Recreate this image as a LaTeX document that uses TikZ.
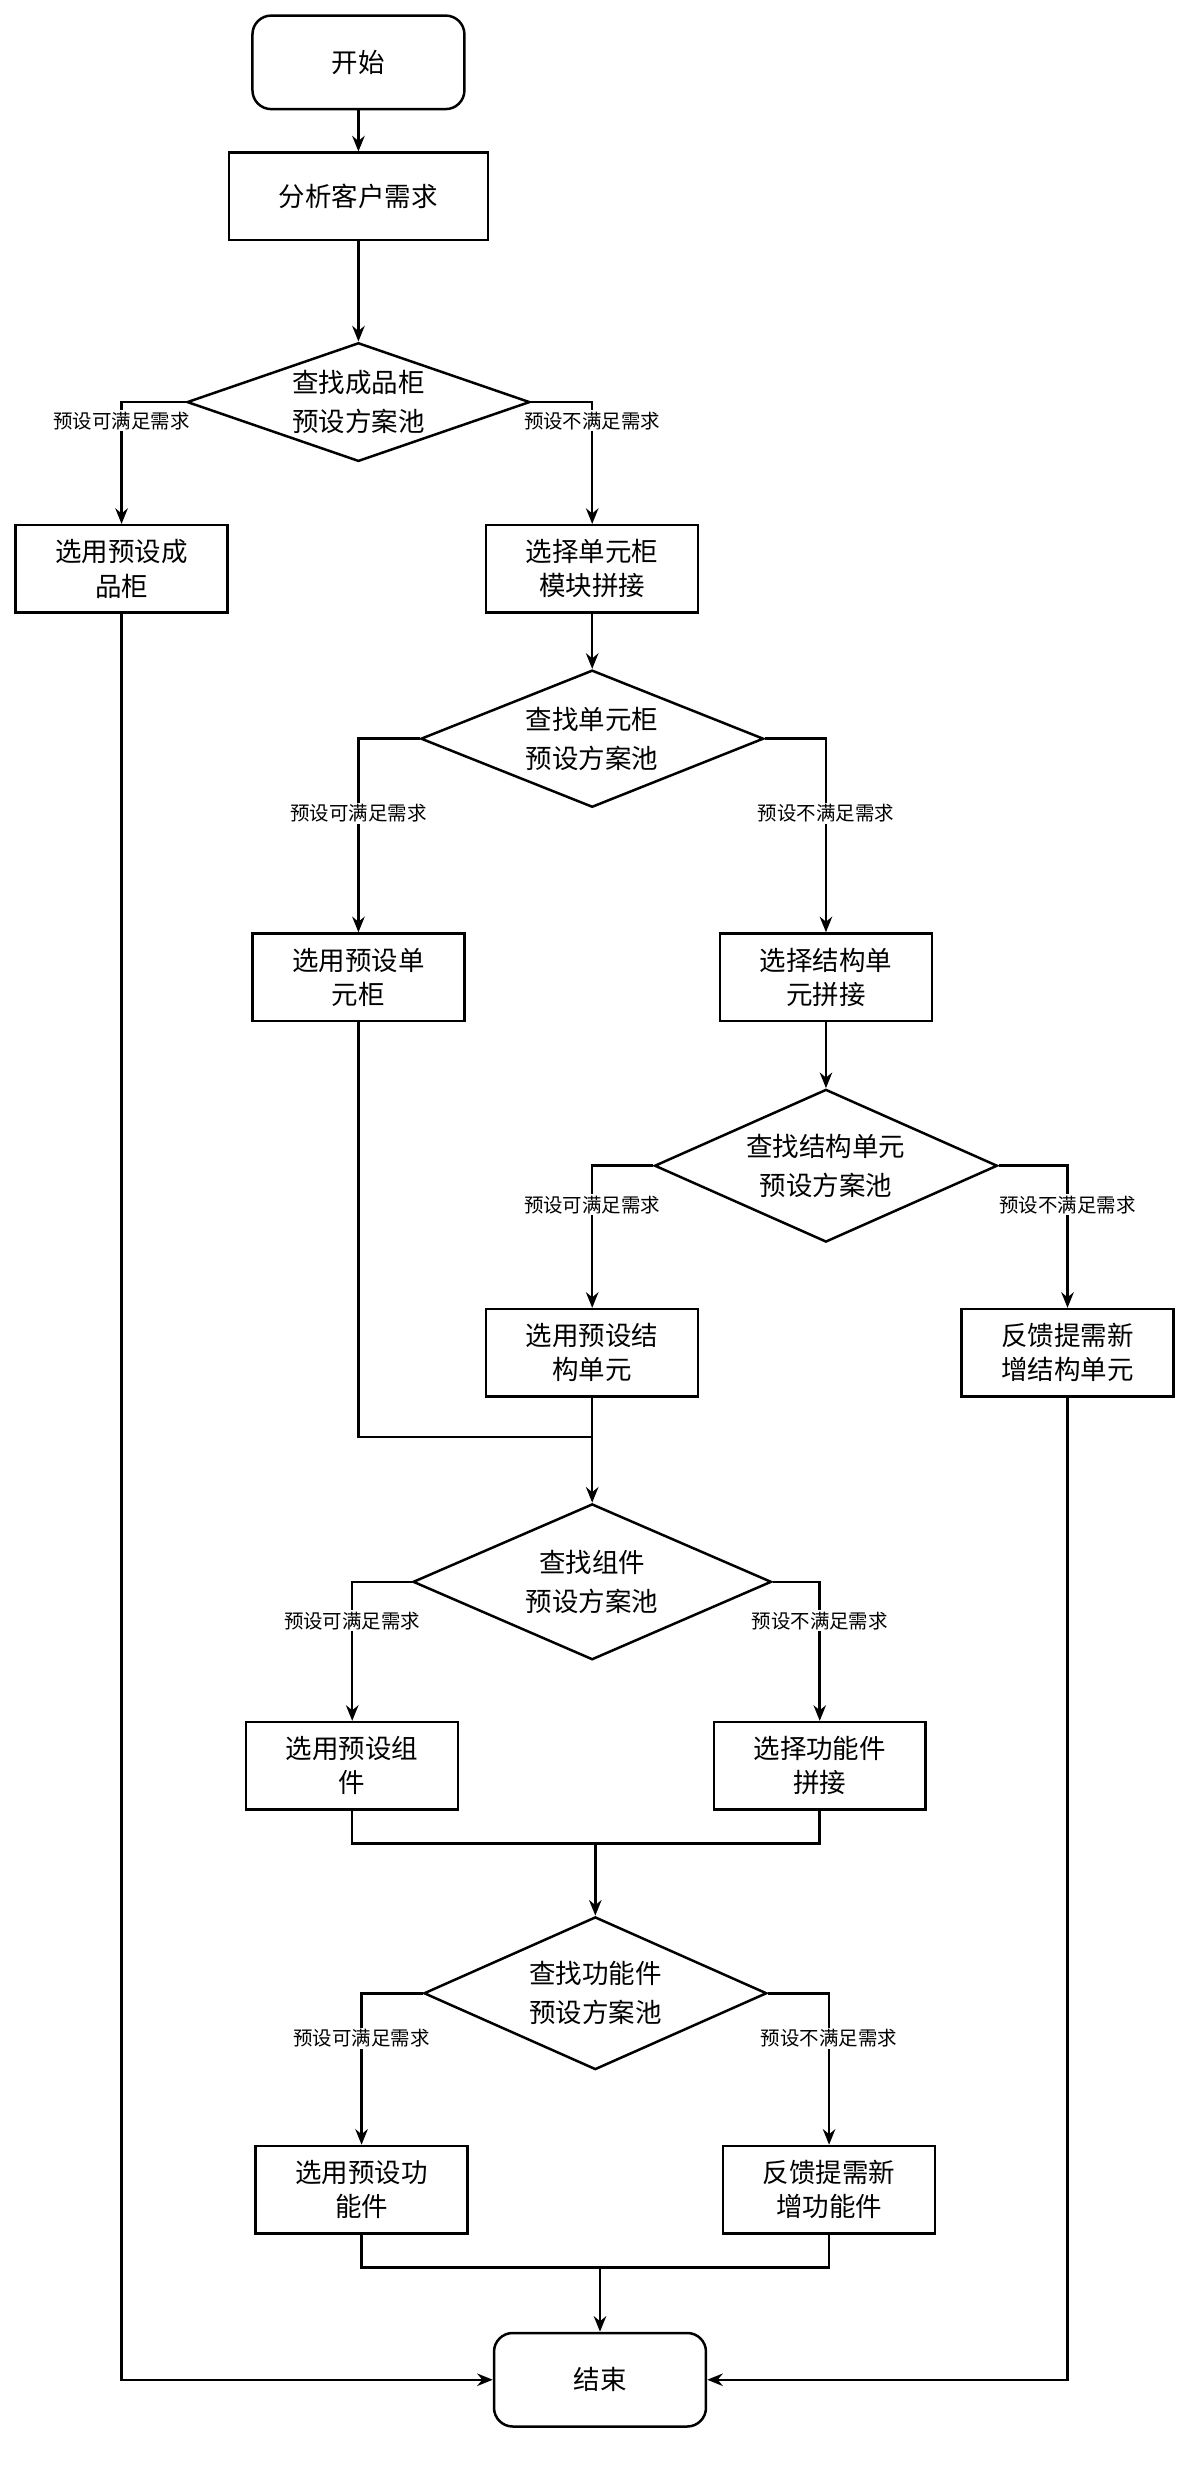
\documentclass[tikz,border=0pt]{standalone}
\usepackage{fontspec}
\newfontfamily\cjk{Noto Sans CJK SC}
\usetikzlibrary{shapes.geometric,arrows.meta}
\begin{document}
\begin{tikzpicture}[x=1pt,y=-1pt,
  box/.style={draw,line width=1.6pt,minimum width=136pt,minimum height=56pt,align=center,font=\cjk\fontsize{17}{22}\selectfont,inner sep=0pt},
  term/.style={box,rounded corners=12pt,minimum height=60pt},
  dia/.style={draw,line width=1.6pt,diamond,aspect=2.6,inner sep=1pt,align=center,font=\cjk\fontsize{17}{25}\selectfont},
  lab/.style={font=\cjk\fontsize{12.5}{14}\selectfont,fill=white,inner sep=1pt},
  ln/.style={line width=1.6pt},
  ar/.style={ln,-{Stealth[length=10pt,width=8pt]}}]
\useasboundingbox (0,0) rectangle (770,1583);
\node[term] (start) at (230,40) {开始};
\node[box,minimum width=166pt] (ana) at (230,126) {分析客户需求};
\node[dia,minimum width=220pt,minimum height=76pt] (d1) at (230,258) {查找成品柜\\预设方案池};
\node[box] (b1) at (78,365) {选用预设成\\品柜};
\node[box] (b2) at (380,365) {选择单元柜\\模块拼接};
\node[dia,minimum width=220pt,minimum height=88pt] (d2) at (380,474) {查找单元柜\\预设方案池};
\node[box] (u1) at (230,627) {选用预设单\\元柜};
\node[box] (u2) at (530,627) {选择结构单\\元拼接};
\node[dia,minimum width=220pt,minimum height=98pt] (d3) at (530,748) {查找结构单元\\预设方案池};
\node[box] (s1) at (380,868) {选用预设结\\构单元};
\node[box] (s2) at (685,868) {反馈提需新\\增结构单元};
\node[dia,minimum width=230pt,minimum height=100pt] (d4) at (380,1015) {查找组件\\预设方案池};
\node[box] (c1) at (226,1133) {选用预设组\\件};
\node[box] (c2) at (526,1133) {选择功能件\\拼接};
\node[dia,minimum width=220pt,minimum height=98pt] (d5) at (382,1279) {查找功能件\\预设方案池};
\node[box] (f1) at (232,1405) {选用预设功\\能件};
\node[box] (f2) at (532,1405) {反馈提需新\\增功能件};
\node[term] (end) at (385,1527) {结束};

\coordinate (m1) at (380,922);
\coordinate (m2) at (382,1183);
\coordinate (m3) at (385,1455);

\draw[ar] (start) -- (ana);
\draw[ar] (ana) -- (d1);
\draw[ar] (d1.west) -| (b1.north);
\draw[ar] (d1.east) -| (b2.north);
\draw[ar] (b2) -- (d2);
\draw[ar] (d2.west) -| (u1.north);
\draw[ar] (d2.east) -| (u2.north);
\draw[ar] (u2) -- (d3);
\draw[ar] (d3.west) -| (s1.north);
\draw[ar] (d3.east) -| (s2.north);
\draw[ln] (u1.south) |- (m1);
\draw[ln] (s1.south) -- (m1);
\draw[ar] (m1) -- (d4.north);
\draw[ar] (d4.west) -| (c1.north);
\draw[ar] (d4.east) -| (c2.north);
\draw[ln] (c1.south) |- (m2);
\draw[ln] (c2.south) |- (m2);
\draw[ar] (m2) -- (d5.north);
\draw[ar] (d5.west) -| (f1.north);
\draw[ar] (d5.east) -| (f2.north);
\draw[ln] (f1.south) |- (m3);
\draw[ln] (f2.south) |- (m3);
\draw[ar] (m3) -- (end.north);
\draw[ar] (b1.south) |- (end.west);
\draw[ar] (s2.south) |- (end.east);

\node[lab] (l1) at (78,270) {预设可满足需求};
\node[lab] (l2) at (380,270) {预设不满足需求};
\node[lab] (l3) at (230,522) {预设可满足需求};
\node[lab] (l4) at (530,522) {预设不满足需求};
\node[lab] (l5) at (380,773) {预设可满足需求};
\node[lab] (l6) at (685,773) {预设不满足需求};
\node[lab] (l7) at (226,1040) {预设可满足需求};
\node[lab] (l8) at (526,1040) {预设不满足需求};
\node[lab] (l9) at (232,1308) {预设可满足需求};
\node[lab] (l10) at (532,1308) {预设不满足需求};
\end{tikzpicture}
\end{document}
